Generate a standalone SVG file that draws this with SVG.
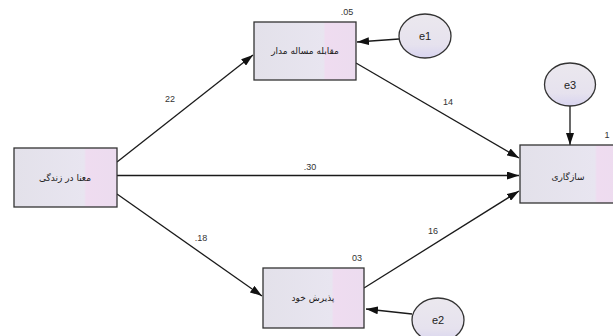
<svg xmlns="http://www.w3.org/2000/svg" width="613" height="336" viewBox="0 0 613 336">
<defs>
<linearGradient id="box" x1="0" y1="0" x2="1" y2="0">
<stop offset="0" stop-color="#e3e1ea"/>
<stop offset="0.68" stop-color="#e8e5f0"/>
<stop offset="0.70" stop-color="#efdcf0"/>
<stop offset="1" stop-color="#ecdcef"/>
</linearGradient>
<linearGradient id="ell" x1="0" y1="0" x2="0" y2="1">
<stop offset="0" stop-color="#ebe8ee"/>
<stop offset="0.7" stop-color="#e6e2ee"/>
<stop offset="1" stop-color="#d8d4f0"/>
</linearGradient>
<marker id="ah" viewBox="0 0 12 8" refX="12" refY="4" markerWidth="12" markerHeight="8" markerUnits="userSpaceOnUse" orient="auto">
<path d="M0,0 L12,4 L0,8 Z" fill="#111"/>
</marker>
</defs>
<style>
.node rect{fill:url(#box);stroke:#333;stroke-width:1.3}
.err ellipse{fill:url(#ell);stroke:#333;stroke-width:1.3}
.lbl{font-family:"DejaVu Sans",sans-serif;font-size:9px;fill:#1a1a1a;text-anchor:middle}
.elbl{font-family:"Liberation Sans",Arial,sans-serif;font-size:11px;fill:#222;text-anchor:middle}
.num{font-family:"Liberation Sans",Arial,sans-serif;font-size:9px;fill:#333;text-anchor:middle}
#connectors line{stroke:#1a1a1a;stroke-width:1.3;marker-end:url(#ah)}
</style>
<rect width="613" height="336" fill="#fff"/>
<g id="connectors">
<line x1="117" y1="162" x2="253" y2="55"/>
<line x1="356" y1="63" x2="519" y2="158"/>
<line x1="117" y1="175.5" x2="519" y2="175.5"/>
<line x1="117" y1="194" x2="262" y2="296"/>
<line x1="364" y1="288" x2="519" y2="191"/>
<line x1="399" y1="39" x2="357" y2="42"/>
<line x1="570" y1="106" x2="570" y2="145"/>
<line x1="412" y1="314" x2="366" y2="309"/>
</g>
<g id="n-meaning" class="node">
<rect x="14" y="148" width="103" height="59"/>
<text class="lbl" x="65" y="181" direction="rtl">معنا در زندگی</text>
</g>
<g id="n-coping" class="node">
<rect x="254" y="22" width="102" height="58"/>
<text class="lbl" x="305" y="54" direction="rtl">مقابله مساله مدار</text>
<text class="num" x="347" y="15">.05</text>
</g>
<g id="n-adjust" class="node">
<rect x="520" y="145" width="110" height="58"/>
<text class="lbl" x="568" y="180" direction="rtl">سازگاری</text>
<text class="num" x="607" y="138" text-anchor="start">1</text>
</g>
<g id="n-accept" class="node">
<rect x="263" y="268" width="101" height="60"/>
<text class="lbl" x="313" y="301" direction="rtl">پذیرش خود</text>
<text class="num" x="357" y="261">03</text>
</g>
<g id="e1" class="err">
<ellipse cx="425" cy="36" rx="26" ry="22"/>
<text class="elbl" x="425" y="40">e1</text>
</g>
<g id="e3" class="err">
<ellipse cx="570" cy="84.5" rx="25.5" ry="21.5"/>
<text class="elbl" x="570" y="89">e3</text>
</g>
<g id="e2" class="err">
<ellipse cx="438" cy="320" rx="26" ry="22"/>
<text class="elbl" x="438" y="324">e2</text>
</g>
<g id="edge-labels">
<text class="num" x="170" y="102">22</text>
<text class="num" x="448" y="105">14</text>
<text class="num" x="310" y="170">.30</text>
<text class="num" x="201" y="241">.18</text>
<text class="num" x="433" y="234">16</text>
</g>
</svg>
